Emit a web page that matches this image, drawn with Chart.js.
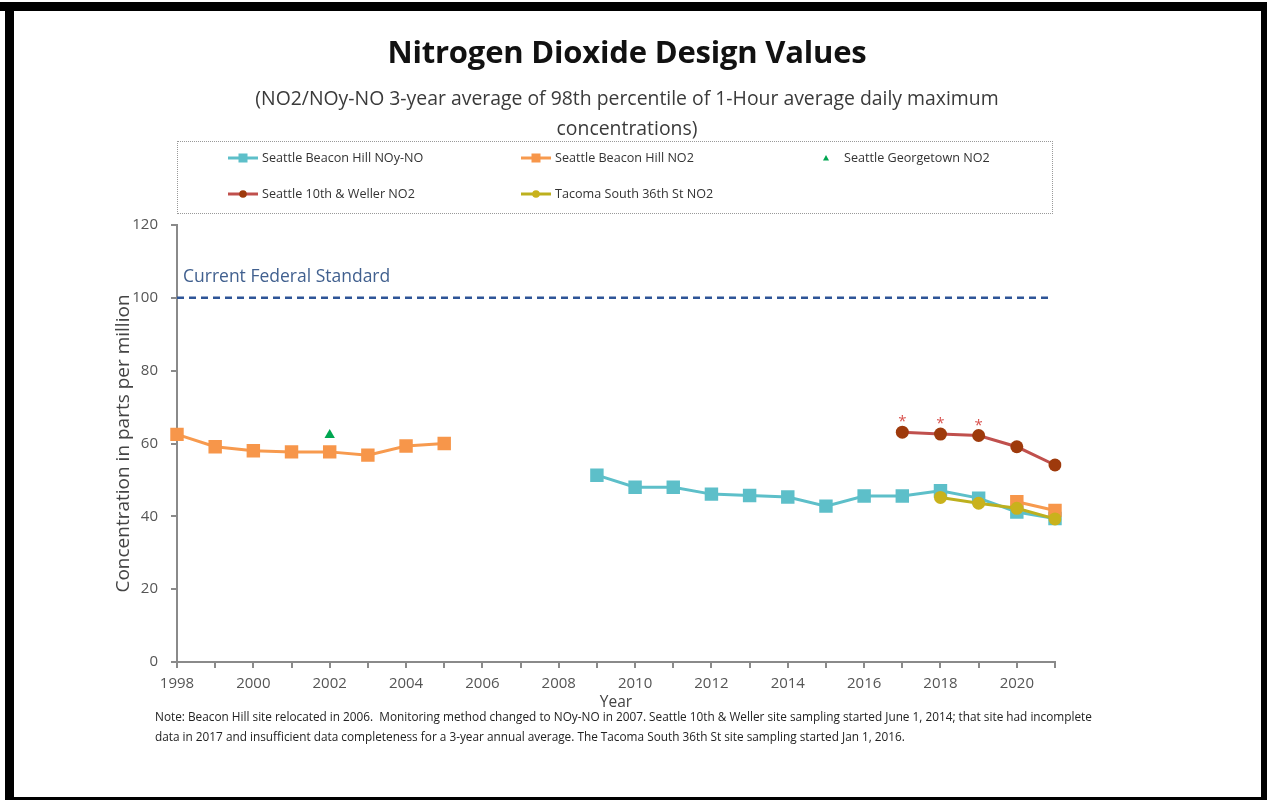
<!DOCTYPE html>
<html>
<head>
<meta charset="utf-8">
<script src="https://cdn.jsdelivr.net/npm/chart.js@4.4.1/dist/chart.umd.min.js"></script>
<style>
  html, body { margin: 0; padding: 0; background: #fff; }
  #wrap { position: relative; width: 1267px; height: 804px; overflow: hidden; background: #fff; font-family: "Open Sans", sans-serif; }
  #chart { position: absolute; left: 0; top: 0; }
  .bd { position: absolute; background: #000; }
  #title { position: absolute; left: 0; width: 1254px; top: 30px; text-align: center; font-weight: 700; font-size: 31px; color: #111; letter-spacing: -0.2px; }
  #subtitle { position: absolute; left: 0; width: 1254px; top: 83px; text-align: center; font-size: 19.4px; line-height: 30px; color: #3a3a3a; }
  #legend { position: absolute; left: 177px; top: 141px; width: 876px; height: 73px; border: 1px dotted #999; box-sizing: border-box; }
  .li { position: absolute; display: flex; align-items: center; font-size: 12.6px; color: #333; white-space: nowrap; }
  .note { position: absolute; left: 155px; font-size: 11.8px; color: #222; white-space: nowrap; }
</style>
</head>
<body>
<div id="wrap">
  <canvas id="chart" width="1267" height="804"></canvas>
  <div id="title">Nitrogen Dioxide Design Values</div>
  <div id="subtitle">(NO2/NOy-NO 3-year average of 98th percentile of 1-Hour average daily maximum<br>concentrations)</div>
  <div id="legend"></div>
  <div class="note" style="top:708px;">Note: Beacon Hill site relocated in 2006.&nbsp; Monitoring method changed to NOy-NO in 2007. Seattle 10th &amp; Weller site sampling started June 1, 2014; that site had incomplete</div>
  <div class="note" style="top:728px;">data in 2017 and insufficient data completeness for a 3-year annual average. The Tacoma South 36th St site sampling started Jan 1, 2016.</div>
  <div class="bd" style="left:0;top:2px;width:1267px;height:9px;"></div>
  <div class="bd" style="left:5px;top:2px;width:9px;height:798px;"></div>
  <div class="bd" style="left:1261px;top:2px;width:6px;height:798px;"></div>
  <div class="bd" style="left:5px;top:797px;width:1262px;height:3px;"></div>
</div>
<script>
// ---- data ----
const years = ['1998','1999','2000','2001','2002','2003','2004','2005','2006','2007','2008','2009',
               '2010','2011','2012','2013','2014','2015','2016','2017','2018','2019','2020','2021'];
const beaconHillNOyNO = [null,null,null,null,null,null,null,null,null,null,null,51.3,
                         48.0,48.0,46.1,45.7,45.3,42.8,45.6,45.6,47.0,45.0,41.2,39.4];
const beaconHillNO2   = [62.5,59.1,58.0,57.7,57.7,56.8,59.3,60.0,null,null,null,null,
                         null,null,null,null,null,null,null,null,null,null,44.0,41.6];
const georgetownNO2   = [null,null,null,null,62.3,null,null,null,null,null,null,null,
                         null,null,null,null,null,null,null,null,null,null,null,null];
const weller10thNO2   = [null,null,null,null,null,null,null,null,null,null,null,null,
                         null,null,null,null,null,null,null,63.1,62.6,62.2,59.1,54.1];
const wellerIncomplete = ['2017','2018','2019'];
const tacomaS36thNO2  = [null,null,null,null,null,null,null,null,null,null,null,null,
                         null,null,null,null,null,null,null,null,45.2,43.6,42.2,39.3];
const federalStandard = 100;
const federalStandardLabel = 'Current Federal Standard';
const yTicks = [0,20,40,60,80,100,120];

const FONT = '"Open Sans", sans-serif';

const datasets = [
  { label: 'Seattle Beacon Hill NOy-NO', data: beaconHillNOyNO, borderColor: '#5DBFC9', backgroundColor: '#5DBFC9',
    pointStyle: 'rect', pointRadius: 9.5, borderWidth: 3, order: 3, legendMarker: 'rect' },
  { label: 'Seattle Beacon Hill NO2', data: beaconHillNO2, borderColor: '#F79A4E', backgroundColor: '#F7964A',
    pointStyle: 'rect', pointRadius: 9.5, borderWidth: 3, order: 2, legendMarker: 'rect' },
  { label: 'Seattle Georgetown NO2', data: georgetownNO2, borderColor: '#00A651', backgroundColor: '#00A651',
    pointStyle: 'triangle', pointRadius: 6, borderWidth: 0, showLine: false, order: 4, legendMarker: 'triangle' },
  { label: 'Seattle 10th & Weller NO2', data: weller10thNO2, borderColor: '#C0504D', backgroundColor: '#9E3A0C',
    pointStyle: 'circle', pointRadius: 6.5, borderWidth: 3, order: 5, legendMarker: 'circle' },
  { label: 'Tacoma South 36th St NO2', data: tacomaS36thNO2, borderColor: '#BDB01E', backgroundColor: '#C9B21C',
    pointStyle: 'circle', pointRadius: 6.5, borderWidth: 3, order: 0, legendMarker: 'circle' }
];
datasets.forEach(d => { d.pointBorderWidth = 0; d.spanGaps = false; d.tension = 0; d.pointHoverRadius = d.pointRadius; });

const overlayPlugin = {
  id: 'overlay',
  afterDatasetsDraw(chart) {
    const ctx = chart.ctx, y = chart.scales.y, x = chart.scales.x, ca = chart.chartArea;
    const py = y.getPixelForValue(federalStandard);
    ctx.save();
    ctx.strokeStyle = '#2E5597';
    ctx.lineWidth = 2.5;
    ctx.setLineDash([7, 5]);
    ctx.beginPath();
    ctx.moveTo(ca.left, py);
    ctx.lineTo(ca.right - 5, py);
    ctx.stroke();
    ctx.setLineDash([]);
    ctx.fillStyle = '#41608F';
    ctx.font = '17.5px ' + FONT;
    ctx.textBaseline = 'middle';
    ctx.textAlign = 'left';
    ctx.fillText(federalStandardLabel, ca.left + 6, py - 21);
    // asterisks on incomplete-data points
    ctx.fillStyle = '#D9534F';
    ctx.font = '15px ' + FONT;
    ctx.textAlign = 'center';
    wellerIncomplete.forEach(yr => {
      const i = years.indexOf(yr);
      const v = weller10thNO2[i];
      if (v == null) return;
      ctx.fillText('*', x.getPixelForValue(i), y.getPixelForValue(v) - 10);
    });
    ctx.restore();
  }
};

const chart = new Chart(document.getElementById('chart'), {
  type: 'line',
  data: { labels: years, datasets },
  options: {
    responsive: false,
    animation: false,
    events: [],
    layout: { padding: { left: 112, right: 212, top: 225, bottom: 92 } },
    plugins: { legend: { display: false }, tooltip: { enabled: false } },
    scales: {
      x: {
        type: 'category',
        offset: false,
        afterFit: s => { s.height = 50; },
        grid: { drawOnChartArea: false, drawTicks: true, tickLength: 6, color: '#8a8a8a', lineWidth: 2 },
        border: { display: true, color: '#8a8a8a', width: 2 },
        ticks: { autoSkip: false, maxRotation: 0, padding: 7, color: '#555', font: { family: FONT, size: 15 },
                 callback: (v, i) => (Number(years[i]) % 2 === 0 ? years[i] : '') },
        title: { display: true, text: 'Year', color: '#444', font: { family: FONT, size: 15.5 }, padding: { top: 0, bottom: 0 } }
      },
      y: {
        min: 0, max: 120,
        afterFit: s => { s.width = 65; },
        afterBuildTicks: s => { s.ticks = yTicks.map(v => ({ value: v })); },
        grid: { drawOnChartArea: false, drawTicks: true, tickLength: 6, color: '#8a8a8a', lineWidth: 2 },
        border: { display: true, color: '#8a8a8a', width: 2 },
        ticks: { padding: 13, color: '#555', font: { family: FONT, size: 15 } },
        title: { display: true, text: 'Concentration in parts per million', color: '#444', font: { family: FONT, size: 19 }, padding: { top: 0, bottom: 0 } }
      }
    }
  },
  plugins: [overlayPlugin]
});

// ---- HTML legend built from datasets ----
const legendEl = document.getElementById('legend');
const colX = [50, 343, 633];
const rowY = [16, 52];
datasets.forEach((d, k) => {
  const item = document.createElement('div');
  item.className = 'li';
  item.style.left = colX[k % 3] + 'px';
  item.style.top = (rowY[Math.floor(k / 3)] - 9) + 'px';
  const c = document.createElement('canvas');
  c.width = 30; c.height = 16;
  const g = c.getContext('2d');
  if (d.showLine !== false) {
    g.strokeStyle = d.borderColor; g.lineWidth = 3;
    g.beginPath(); g.moveTo(0, 8); g.lineTo(30, 8); g.stroke();
  }
  g.fillStyle = d.backgroundColor;
  if (d.legendMarker === 'rect') g.fillRect(10.5, 3.5, 9, 9);
  else if (d.legendMarker === 'circle') { g.beginPath(); g.arc(15, 8, 3.8, 0, Math.PI * 2); g.fill(); }
  else { g.beginPath(); g.moveTo(15, 5); g.lineTo(18, 10.5); g.lineTo(12, 10.5); g.closePath(); g.fill(); }
  c.style.marginRight = d.showLine === false ? '3px' : '4px';
  item.appendChild(c);
  const t = document.createElement('span');
  t.textContent = d.label;
  item.appendChild(t);
  legendEl.appendChild(item);
});
</script>
</body>
</html>
